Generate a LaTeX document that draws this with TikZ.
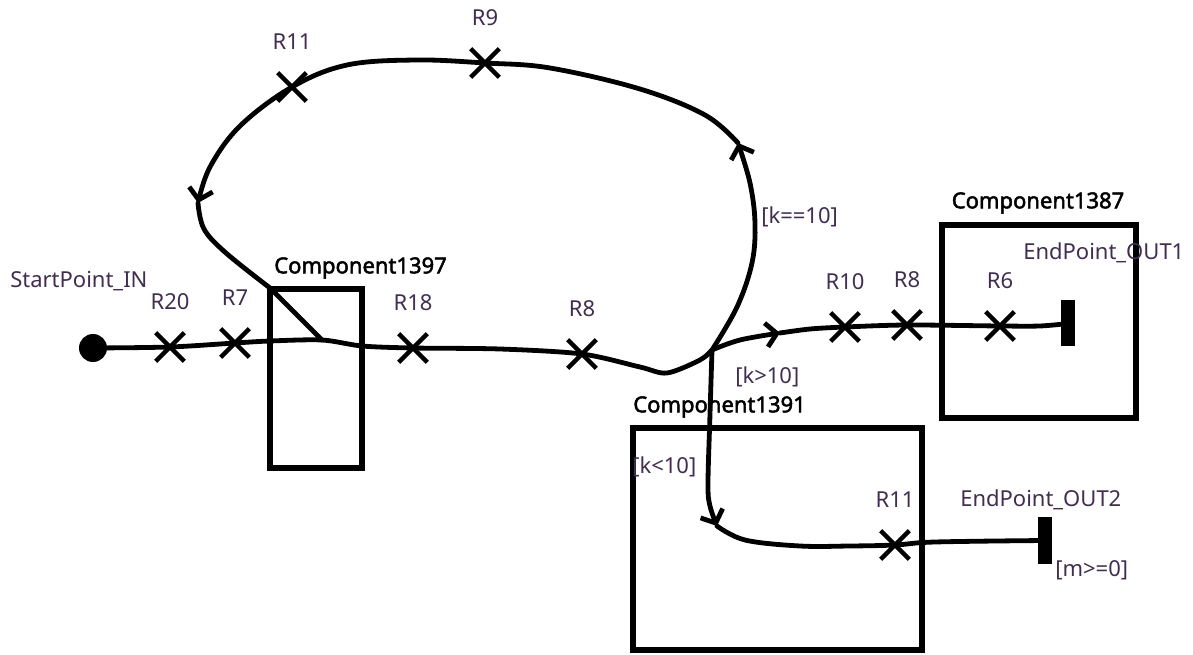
\documentclass[tikz,border=0pt]{standalone}
\usepackage{fontspec}
\setmainfont{Noto Sans}[AutoFakeBold=2.2]
\usetikzlibrary{arrows.meta,shapes.misc,positioning}
\definecolor{lbltext}{RGB}{65,45,80}

\begin{document}
\begin{tikzpicture}[x=0.75pt,y=0.75pt,label distance=17pt]
\tikzstyle{wire} = [line width=3.6pt, line cap=round, line join=round]
\tikzstyle{comp} = [
	draw, %border of the component
	line width=4pt,
	inner sep=0pt
];
\tikzstyle{xmark} = [cross out, draw, line width=3.4pt, minimum size=18pt, inner sep=0pt]
\tikzstyle{txt} = [font=\fontsize{16.5}{20}\selectfont, text=lbltext, inner sep=0pt]
\tikzstyle{title} = [font=\fontsize{16.5}{20}\selectfont\bfseries, inner sep=0pt]
\tikzstyle{endbar} = [fill=black, minimum width=10.5pt, minimum height=34.5pt, inner sep=0pt]
\tikzstyle{chev} = [-{Straight Barb[length=8pt,width=18pt]}]
\tikzset{every label/.style={txt}}

\useasboundingbox (0,0) rectangle (1193,654);

%components
\node[comp, minimum width=69pt, minimum height=134.25pt] (C1397) at (316,275.5) {};
\node[comp, minimum width=145.5pt, minimum height=144.75pt] (C1387) at (1039,332.5) {};
\node[comp, minimum width=216.75pt, minimum height=166.5pt] (C1391) at (777.5,115) {};
\node[title, anchor=west] (T1397) at (274,386) {Component1397};
\node[title] (T1387) at (1038,451) {Component1387};
\node[title, anchor=west] (T1391) at (633,247) {Component1391};

%start and end points
\node[circle, fill=black, minimum size=21pt, inner sep=0pt] (start) at (93,306) {};
\node[endbar] (out1) at (1068,330.5) {};
\node[endbar] (out2) at (1044.5,113.5) {};
\node[txt, anchor=west] (Lstart) at (10,373) {StartPoint\_IN};
\node[txt, anchor=west] (Lout1) at (1023,401) {EndPoint\_OUT1};
\node[txt, anchor=west] (Lout2) at (960,154) {EndPoint\_OUT2};

%resistances
\node[xmark, label=above:R20] (R20) at (170,307) {};
\node[xmark, label=above:R7] (R7) at (235,311) {};
\node[xmark, label=above:R18] (R18) at (413,306) {};
\node[xmark, label=above:R8] (R8a) at (582,300) {};
\node[xmark, label=above:R9] (R9) at (485,591) {};
\node[xmark, label=above:R11] (R11a) at (292,567) {};
\node[xmark, label=above:R10] (R10) at (845,327) {};
\node[xmark, label=above:R8] (R8b) at (907,329) {};
\node[xmark, label=above:R6] (R6) at (1000,328) {};
\node[xmark, label=above:R11] (R11b) at (895,109) {};

%guards
\node[txt, anchor=west] (Geq) at (761,437) {[k==10]};
\node[txt, anchor=west] (Ggt) at (735,277) {[k>10]};
\node[txt, anchor=west] (Glt) at (632,187) {[k<10]};
\node[txt, anchor=west] (Gm) at (1055,84) {[m>=0]};

\coordinate (J) at (712,304);
\coordinate (C) at (270,366);
\coordinate (Q) at (322,314);
\coordinate (A1) at (738,511);
\coordinate (A2) at (198,451);
\coordinate (A3) at (780,321);
\coordinate (A4) at (717,128);

%main line
\draw[wire] plot[smooth, tension=0.5] coordinates {(start.center) (R20.center) (R7.center) (270,313) (Q) (362,308) (R18.center) (500,305) (R8a.center) (640,287) (667,281) (700,294) (J)};

%loop
\draw[wire, chev] plot[smooth, tension=0.6] coordinates {(J) (737,347) (752,391) (755,431) (750,471) (A1)};
\draw[wire, chev] plot[smooth, tension=0.6] coordinates {(A1) (705,539) (640,565) (550,586) (R9.center) (417,594) (347,589) (R11a.center) (240,528) (210,487) (A2)};
\draw[wire] plot[smooth, tension=0.6] coordinates {(A2) (204,425) (226,401) (C)} -- (Q);

%branch k>10
\draw[wire, chev] plot[smooth, tension=0.6] coordinates {(J) (740,314) (A3)};
\draw[wire] plot[smooth, tension=0.5] coordinates {(A3) (810,325) (R10.center) (R8b.center) (R6.center) (1040,328) (out1.center)};

%branch k<10
\draw[wire, chev] plot[smooth, tension=0.6] coordinates {(J) (710,240) (708,170) (710,148) (A4)};
\draw[wire] plot[smooth, tension=0.6] coordinates {(A4) (745,114) (800,108) (850,108) (R11b.center) (935,112) (out2.center)};

\end{tikzpicture}
\end{document}
